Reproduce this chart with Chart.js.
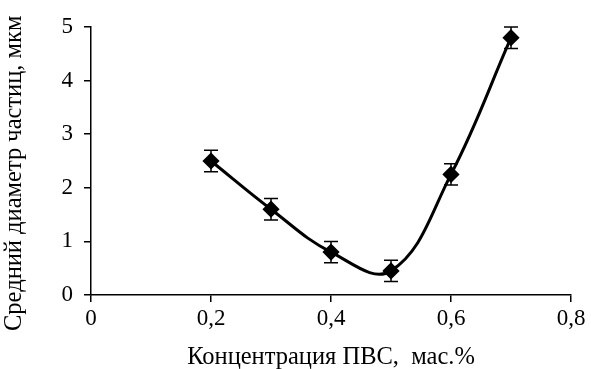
<!DOCTYPE html>
<html>
<head>
<meta charset="utf-8">
<script src="https://cdn.jsdelivr.net/npm/chart.js@4"></script>
<style>
  html, body { margin: 0; padding: 0; background: #fff; }
  #wrap { width: 591px; height: 369px; }
</style>
</head>
<body>
<div id="wrap"><canvas id="c" width="591" height="369"></canvas></div>
<script>
// PVA concentration, wt.%
const concentration = [0.2, 0.3, 0.4, 0.5, 0.6, 0.7];
// Mean particle diameter, µm
const diameter = [2.5, 1.6, 0.8, 0.45, 2.25, 4.8];
// Error (±), µm
const diameterError = [0.2, 0.2, 0.2, 0.2, 0.2, 0.2];

const xTicks = [0, 0.2, 0.4, 0.6, 0.8];
const yTicks = [0, 1, 2, 3, 4, 5];

const FONT = 'Liberation Serif';
const TICK_SIZE = 23;
const TITLE_SIZE = 24.5;

// Vertical error bars with caps, drawn through the chart scales
const errorBars = {
  id: 'errorBars',
  afterDatasetsDraw(chart) {
    const ctx = chart.ctx;
    const xs = chart.scales.x, ys = chart.scales.y;
    ctx.save();
    ctx.strokeStyle = '#000';
    ctx.lineWidth = 1.5;
    concentration.forEach((cx, i) => {
      const px = xs.getPixelForValue(cx);
      const top = ys.getPixelForValue(diameter[i] + diameterError[i]);
      const bot = ys.getPixelForValue(diameter[i] - diameterError[i]);
      ctx.beginPath();
      ctx.moveTo(px, top); ctx.lineTo(px, bot);
      ctx.moveTo(px - 7, top); ctx.lineTo(px + 7, top);
      ctx.moveTo(px - 7, bot); ctx.lineTo(px + 7, bot);
      ctx.stroke();
    });
    ctx.restore();
  }
};

const fmt = v => String(Math.round(v * 10) / 10).replace('.', ',');

new Chart(document.getElementById('c'), {
  type: 'scatter',
  data: {
    datasets: [{
      data: concentration.map((x, i) => ({ x, y: diameter[i] })),
      showLine: true,
      tension: 0.4,
      borderColor: '#000',
      borderWidth: 3,
      pointStyle: 'rectRot',
      pointRadius: 6.5,
      pointBackgroundColor: '#000',
      pointBorderColor: '#000'
    }]
  },
  options: {
    responsive: false,
    animation: false,
    layout: { padding: { left: 0, right: 20, top: 27, bottom: 0 } },
    plugins: { legend: { display: false }, tooltip: { enabled: false } },
    scales: {
      x: {
        type: 'linear',
        min: 0, max: 0.8,
        afterBuildTicks: s => { s.ticks = xTicks.map(v => ({ value: v })); },
        afterFit: s => { s.height = 74; },
        ticks: { color: '#000', font: { family: FONT, size: TICK_SIZE }, padding: 3, callback: v => fmt(v) },
        grid: { display: true, drawOnChartArea: false, drawTicks: true, tickLength: 7, color: '#000', lineWidth: 1.5 },
        border: { color: '#000', width: 1.5 },
        title: { display: true, text: 'Концентрация ПВС,  мас.%', color: '#000', font: { family: FONT, size: TITLE_SIZE }, padding: { top: 0, bottom: -3 } }
      },
      y: {
        type: 'linear',
        min: 0, max: 5,
        afterBuildTicks: s => { s.ticks = yTicks.map(v => ({ value: v })); },
        afterFit: s => { s.width = 91; },
        ticks: { color: '#000', font: { family: FONT, size: TICK_SIZE }, padding: 11, callback: v => String(v) },
        grid: { display: true, drawOnChartArea: false, drawTicks: true, tickLength: 7, color: '#000', lineWidth: 1.5 },
        border: { color: '#000', width: 1.5 },
        // trailing no-break spaces nudge the rotated title slightly downward
        title: { display: true, text: 'Средний диаметр частиц, мкм\u00A0\u00A0\u00A0\u00A0', color: '#000', font: { family: FONT, size: TITLE_SIZE }, padding: { top: 0, bottom: 4 } }
      }
    }
  },
  plugins: [errorBars]
});
</script>
</body>
</html>
